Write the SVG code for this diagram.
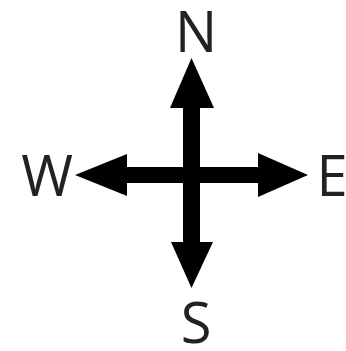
<svg xmlns="http://www.w3.org/2000/svg" width="346" height="351" viewBox="0 0 346 351">
<style>
.lbl{font-family:"Open Sans","Liberation Sans",sans-serif;font-size:56px;fill:#222;text-anchor:middle}
.arr{fill:#000}
</style>
<rect width="346" height="351" fill="#fff"/>
<g id="connectors">
<rect class="arr" x="183" y="105" width="17" height="140"/>
<rect class="arr" x="124" y="167" width="137" height="16"/>
<polygon class="arr" points="191.5,58 214,108 170,108"/>
<polygon class="arr" points="191.5,288 213,242 171,242"/>
<polygon class="arr" points="75,175 127,154 127,196"/>
<polygon class="arr" points="308,175 258,153 258,197"/>
</g>
<g id="N"><text class="lbl" x="196" y="52">N</text></g>
<g id="S"><text class="lbl" x="196" y="343">S</text></g>
<g id="W"><text class="lbl" x="47" y="196">W</text></g>
<g id="E"><text class="lbl" x="332" y="196">E</text></g>
</svg>
